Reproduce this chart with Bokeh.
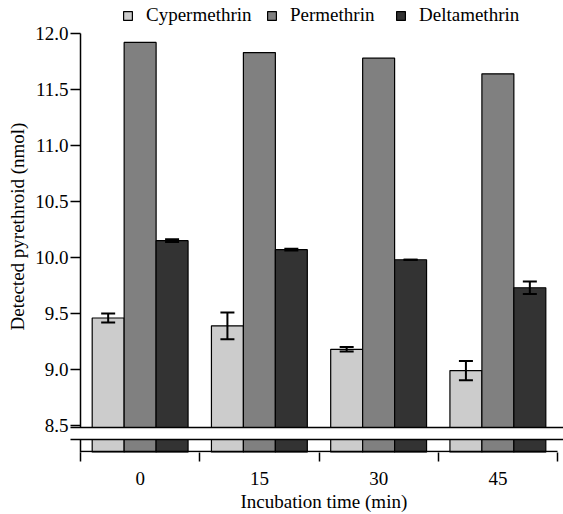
from bokeh.plotting import figure
from bokeh.models import (ColumnDataSource, Range1d, FixedTicker, Whisker, TeeHead,
                          Legend, LegendItem, Title)
from bokeh.embed import file_html
from bokeh.resources import INLINE

# ---- data ----
times = ["0", "15", "30", "45"]
cypermethrin = [9.46, 9.39, 9.18, 8.99]
cypermethrin_err = [0.04, 0.12, 0.02, 0.085]
permethrin = [11.92, 11.83, 11.78, 11.64]
deltamethrin = [10.15, 10.07, 9.98, 9.73]
deltamethrin_err = [0.012, 0.008, 0.0, 0.055]
y_ticks = [8.5, 9.0, 9.5, 10.0, 10.5, 11.0, 11.5, 12.0]
series_names = ["Cypermethrin", "Permethrin", "Deltamethrin"]
x_title = "Incubation time (min)"
y_title = "Detected pyrethroid (nmol)"

# ---- style ----
FONT = "Liberation Serif"
FS = "19px"
colors = ["#cccccc", "#808080", "#333333"]
bar_w = 0.268
offsets = [-0.268, 0.0, 0.268]

n = len(times)
centers = [i + 0.5 for i in range(n)]

y_top = 12.2946
y_bot = 8.2589
axis_y = 8.268          # position of drawn x-axis line
break_lo, break_hi = 8.375, 8.482

p = figure(width=563, height=514, output_backend="svg", toolbar_location=None,
           x_range=Range1d(-0.0839, 4.0503), y_range=Range1d(y_bot, y_top),
           min_border_left=70, min_border_right=0, min_border_top=0,
           min_border_bottom=62)
p.outline_line_color = None
p.grid.visible = False
p.background_fill_color = "white"

renderers = []
vals = [cypermethrin, permethrin, deltamethrin]
for k, (name, v) in enumerate(zip(series_names, vals)):
    src = ColumnDataSource(dict(x=[c + offsets[k] for c in centers], top=v,
                                bottom=[7.5] * n))
    r = p.vbar(x="x", top="top", bottom="bottom", width=bar_w, source=src,
               fill_color=colors[k], line_color="black", line_width=1.2)
    renderers.append(r)

# error bars
for kk, v, e in [(0, cypermethrin, cypermethrin_err), (2, deltamethrin, deltamethrin_err)]:
    xs = [c + offsets[kk] for c in centers]
    src = ColumnDataSource(dict(base=xs, upper=[a + b for a, b in zip(v, e)],
                                lower=[a - b for a, b in zip(v, e)]))
    w = Whisker(base="base", upper="upper", lower="lower", source=src, dimension="height",
                line_color="black", line_width=2, level="overlay",
                upper_head=TeeHead(size=14, line_width=2, line_color="black"),
                lower_head=TeeHead(size=14, line_width=2, line_color="black"))
    p.add_layout(w)

# axis lines drawn as segments
p.segment(x0=[0], y0=[12.0], x1=[0], y1=[y_bot - 0.05], line_color="black", line_width=1.5)
p.segment(x0=[0], y0=[axis_y], x1=[n], y1=[axis_y], line_color="black", line_width=1.5)

# axis break
p.quad(left=[-0.095], right=[4.3], bottom=[break_lo], top=[break_hi],
       fill_color="white", line_color="black", line_width=1.5)

# y axis
ya = p.yaxis[0]
ya.ticker = FixedTicker(ticks=y_ticks)
ya.major_label_overrides = {t: f"{t:.1f}" for t in y_ticks}
ya.axis_line_color = None
ya.major_tick_in = 10
ya.major_tick_out = 0
ya.major_tick_line_width = 1.5
ya.major_tick_line_color = "black"
ya.minor_tick_line_color = None
ya.major_label_standoff = 2
ya.axis_label = y_title
ya.axis_label_standoff = 4
ya.axis_label_text_font = FONT
ya.axis_label_text_font_size = FS
ya.axis_label_text_font_style = "normal"
ya.axis_label_text_color = "black"
ya.major_label_text_font = FONT
ya.major_label_text_font_size = FS
ya.major_label_text_color = "black"

# x axis
xa = p.xaxis[0]
xa.ticker = FixedTicker(ticks=centers, minor_ticks=list(range(n + 1)))
xa.major_label_overrides = {c: t for c, t in zip(centers, times)}
xa.axis_line_color = None
xa.major_tick_out = 0
xa.major_tick_in = 0
xa.minor_tick_out = 9
xa.minor_tick_in = 0
xa.minor_tick_line_width = 1.5
xa.minor_tick_line_color = "black"
xa.major_label_standoff = 10
xa.major_label_text_font = FONT
xa.major_label_text_font_size = FS
xa.major_label_text_color = "black"

# x axis title
p.add_layout(Title(text=x_title, align="left", offset=170, standoff=3,
                   text_font=FONT, text_font_size=FS, text_font_style="normal",
                   text_color="black"), "below")

# legends (one per item for placement)
leg_x = [52, 196, 325]
for k, r in enumerate(renderers):
    lg = Legend(items=[LegendItem(label=series_names[k], renderers=[r])],
                location=(leg_x[k], 426), orientation="horizontal",
                border_line_color=None, background_fill_alpha=0,
                padding=0, margin=0, glyph_width=11, glyph_height=11,
                label_standoff=13, label_text_font=FONT, label_text_font_size=FS,
                label_text_color="black", label_height=20)
    p.add_layout(lg, "center")

open("out.html", "w").write(file_html(p, INLINE))
